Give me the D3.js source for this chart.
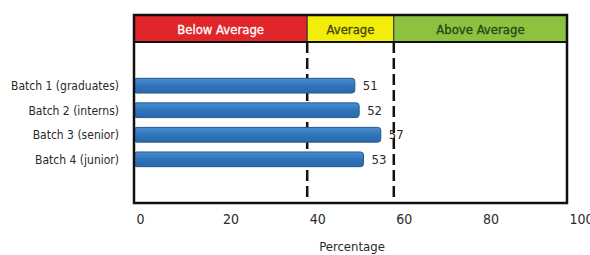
<!DOCTYPE html>
<html>
<head>
<meta charset="utf-8">
<script src="https://cdn.jsdelivr.net/npm/d3@7"></script>
<style>
  body { margin: 0; background: #fff; }
  text { font-family: "DejaVu Sans Condensed", "DejaVu Sans", sans-serif; font-stretch: condensed; }
</style>
</head>
<body>
<div id="chart"></div>
<script>
// Data
const batches = ["Batch 1 (graduates)", "Batch 2 (interns)", "Batch 3 (senior)", "Batch 4 (junior)"];
const scores = [51, 52, 57, 53];
const xTicks = [0, 20, 40, 60, 80, 100];
const bandNames = ["Below Average", "Average", "Above Average"];
const bandStarts = [0, 40, 60];
const bandEnds = [40, 60, 100];
const bandColors = ["#e0262b", "#f2ee0c", "#8dc241"];
const bandText = ["#ffffff", "#45420f", "#284418"];

const width = 590, height = 255;
const plotLeft = 134, plotRight = 567, plotTop = 15, headerH = 27, plotBottom = 203;

const svg = d3.select("#chart").append("svg")
    .attr("width", width)
    .attr("height", height);

const x = d3.scaleLinear().domain([0, 100]).range([plotLeft, plotRight]);
const y = d3.scaleBand().domain(batches).range([68.5, 176.5]).padding(0.4);

// Header bands
svg.selectAll(".band")
  .data(bandNames)
  .enter().append("rect")
    .attr("x", (d, i) => x(bandStarts[i]))
    .attr("y", plotTop)
    .attr("width", (d, i) => x(bandEnds[i]) - x(bandStarts[i]))
    .attr("height", headerH)
    .attr("fill", (d, i) => bandColors[i])
    .attr("stroke", "#333")
    .attr("stroke-width", 1);

svg.selectAll(".bandLabel")
  .data(bandNames)
  .enter().append("text")
    .attr("x", (d, i) => (x(bandStarts[i]) + x(bandEnds[i])) / 2)
    .attr("y", plotTop + headerH / 2 + 5)
    .attr("text-anchor", "middle")
    .style("font-size", "13px")
    .attr("fill", (d, i) => bandText[i])
    .attr("stroke", (d, i) => bandText[i])
    .attr("stroke-width", 0.3)
    .text(d => d);

// Dashed threshold lines
svg.selectAll(".thresh")
  .data([40, 60])
  .enter().append("line")
    .attr("x1", d => x(d)).attr("x2", d => x(d))
    .attr("y1", plotTop + headerH).attr("y2", plotBottom)
    .attr("stroke", "#111")
    .attr("stroke-width", 2.5)
    .attr("stroke-dasharray", "11,5");

// Bars
const grad = svg.append("defs").append("linearGradient")
    .attr("id", "barGrad").attr("x1", 0).attr("x2", 0).attr("y1", 0).attr("y2", 1);
grad.append("stop").attr("offset", "0%").attr("stop-color", "#4d8fd0");
grad.append("stop").attr("offset", "50%").attr("stop-color", "#2f74bb");
grad.append("stop").attr("offset", "100%").attr("stop-color", "#2a67a8");

svg.selectAll(".bar")
  .data(scores)
  .enter().append("rect")
    .attr("x", x(0))
    .attr("y", (d, i) => y(batches[i]))
    .attr("width", d => x(d) - x(0))
    .attr("height", y.bandwidth())
    .attr("rx", 3)
    .attr("fill", "url(#barGrad)")
    .attr("stroke", "#25598f")
    .attr("stroke-width", 1);

// Value labels
svg.selectAll(".val")
  .data(scores)
  .enter().append("text")
    .attr("x", d => x(d) + 8)
    .attr("y", (d, i) => y(batches[i]) + y.bandwidth() / 2 + 4.5)
    .style("font-size", "13px")
    .attr("fill", "#2a2a2a")
    .text(d => d);

// Category labels
svg.selectAll(".cat")
  .data(batches)
  .enter().append("text")
    .attr("x", 119)
    .attr("y", d => y(d) + y.bandwidth() / 2 + 4.5)
    .attr("text-anchor", "end")
    .style("font-size", "12px")
    .attr("fill", "#2a2a2a")
    .text(d => d);

// Outer frame
svg.append("rect")
    .attr("x", plotLeft).attr("y", plotTop)
    .attr("width", plotRight - plotLeft).attr("height", plotBottom - plotTop)
    .attr("fill", "none")
    .attr("stroke", "#111")
    .attr("stroke-width", 2.5);

svg.append("line")
    .attr("x1", plotLeft).attr("x2", plotRight)
    .attr("y1", plotTop + headerH).attr("y2", plotTop + headerH)
    .attr("stroke", "#111")
    .attr("stroke-width", 2);

// X axis labels
svg.selectAll(".tick")
  .data(xTicks)
  .enter().append("text")
    .attr("x", d => x(d) + 2.5)
    .attr("y", 224)
    .style("font-size", "14px")
    .attr("fill", "#2a2a2a")
    .text(d => d);

svg.append("text")
    .attr("x", 352)
    .attr("y", 251)
    .attr("text-anchor", "middle")
    .style("font-size", "13px")
    .attr("fill", "#2a2a2a")
    .text("Percentage");
</script>
</body>
</html>
